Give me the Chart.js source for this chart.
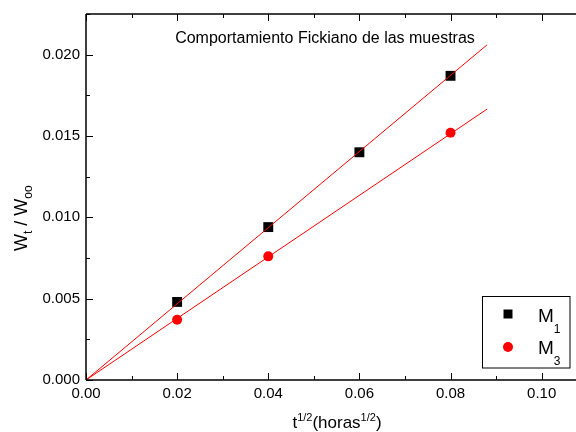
<!DOCTYPE html>
<html>
<head>
<meta charset="utf-8">
<script src="https://cdn.jsdelivr.net/npm/chart.js@4/dist/chart.umd.min.js"></script>
<style>
  html, body { margin: 0; padding: 0; background: #fff; }
  #wrap { width: 576px; height: 432px; }
</style>
</head>
<body>
<div id="wrap"><canvas id="chart" width="576" height="432"></canvas></div>
<script>
// values
const m1X = [0.02, 0.04, 0.06, 0.08];
const m1Values = [0.0048, 0.0094, 0.0140, 0.0187];
const m3X = [0.02, 0.04, 0.08];
const m3Values = [0.0037, 0.0076, 0.0152];
const fitX = [0, 0.088];
const m1Fit = [0, 0.0206];
const m3Fit = [0, 0.01665];
const xTicks = [0, 0.02, 0.04, 0.06, 0.08, 0.10];
const yTicks = [0, 0.005, 0.010, 0.015, 0.020];

const FONT = '"Liberation Sans", Arial, sans-serif';

function pairs(xs, ys) {
    return xs.map((x, i) => ({ x: x, y: ys[i] }));
}

// draw a run of text pieces (for sub/superscripts) starting at x, baseline y
function drawParts(ctx, parts, x, y) {
    let cx = x;
    parts.forEach(p => {
        ctx.font = p.size + 'px ' + FONT;
        ctx.fillText(p.text, cx, y + (p.dy || 0));
        cx += ctx.measureText(p.text).width;
    });
    return cx - x;
}
function partsWidth(ctx, parts) {
    let w = 0;
    parts.forEach(p => {
        ctx.font = p.size + 'px ' + FONT;
        w += ctx.measureText(p.text).width;
    });
    return w;
}

// frame, inward ticks, titles and legend
const decorPlugin = {
    id: 'decor',
    afterDraw(chart) {
        const ctx = chart.ctx;
        const a = chart.chartArea;
        const xs = chart.scales.x, ys = chart.scales.y;
        const edge = chart.width;
        ctx.save();
        ctx.strokeStyle = '#000';
        ctx.lineWidth = 1.5;
        ctx.beginPath();
        ctx.moveTo(a.left, a.top); ctx.lineTo(edge, a.top);
        ctx.moveTo(a.left, a.top); ctx.lineTo(a.left, a.bottom);
        ctx.moveTo(a.left, a.bottom); ctx.lineTo(edge, a.bottom);
        ctx.stroke();

        ctx.lineWidth = 1;
        ctx.beginPath();
        for (let i = 0; i <= 11; i++) {
            const px = Math.round(xs.getPixelForValue(i * 0.01)) + 0.5;
            if (px > edge) break;
            const len = i % 2 === 0 ? 7 : 4;
            ctx.moveTo(px, a.bottom); ctx.lineTo(px, a.bottom - len);
            ctx.moveTo(px, a.top); ctx.lineTo(px, a.top + len);
        }
        for (let i = 0; i <= 9; i++) {
            const v = i * 0.0025;
            if (v > ys.max) break;
            const py = Math.round(ys.getPixelForValue(v)) + 0.5;
            const len = i % 2 === 0 ? 7 : 4;
            ctx.moveTo(a.left, py); ctx.lineTo(a.left + len, py);
        }
        ctx.stroke();

        ctx.fillStyle = '#000';
        ctx.textBaseline = 'alphabetic';
        ctx.textAlign = 'left';

        // title inside the plot
        ctx.font = '16px ' + FONT;
        ctx.textAlign = 'center';
        ctx.fillText('Comportamiento Fickiano de las muestras', 325, 43);
        ctx.textAlign = 'left';

        // x axis title
        const xt = [
            { text: 't', size: 17 },
            { text: '1/2', size: 11, dy: -7 },
            { text: '(horas', size: 17 },
            { text: '1/2', size: 11, dy: -7 },
            { text: ')', size: 17 }
        ];
        const xw = partsWidth(ctx, xt);
        drawParts(ctx, xt, 337 - xw / 2, 428);

        // y axis title
        ctx.save();
        ctx.translate(27, 251);
        ctx.rotate(-Math.PI / 2);
        drawParts(ctx, [
            { text: 'W', size: 18 },
            { text: 't', size: 12, dy: 5 },
            { text: ' / W', size: 18 },
            { text: 'oo', size: 12, dy: 5 }
        ], 0, 0);
        ctx.restore();

        // legend
        ctx.lineWidth = 1;
        ctx.strokeRect(482.5, 296.5, 87.5, 71.5);
        ctx.fillStyle = '#000';
        ctx.fillRect(503.5, 309.5, 9, 9);
        ctx.fillStyle = '#ff0000';
        ctx.beginPath();
        ctx.arc(508, 347, 5, 0, Math.PI * 2);
        ctx.fill();
        ctx.fillStyle = '#000';
        drawParts(ctx, [{ text: 'M', size: 19 }, { text: '1', size: 12, dy: 11 }], 538, 322);
        drawParts(ctx, [{ text: 'M', size: 19 }, { text: '3', size: 12, dy: 11 }], 538, 354);
        ctx.restore();
    }
};

const ctx = document.getElementById('chart').getContext('2d');
new Chart(ctx, {
    type: 'scatter',
    data: {
        datasets: [
            {
                type: 'line',
                label: 'M1 ajuste',
                data: pairs(fitX, m1Fit),
                borderColor: '#ff0000',
                borderWidth: 1,
                pointRadius: 0,
                fill: false,
                order: 0
            },
            {
                type: 'line',
                label: 'M3 ajuste',
                data: pairs(fitX, m3Fit),
                borderColor: '#ff0000',
                borderWidth: 1,
                pointRadius: 0,
                fill: false,
                order: 0
            },
            {
                label: 'M1',
                data: pairs(m1X, m1Values),
                pointStyle: 'rect',
                pointRadius: 7,
                backgroundColor: '#000',
                borderWidth: 0,
                order: 1
            },
            {
                label: 'M3',
                data: pairs(m3X, m3Values),
                pointStyle: 'circle',
                pointRadius: 5,
                backgroundColor: '#ff0000',
                borderWidth: 0,
                order: 1
            }
        ]
    },
    options: {
        responsive: false,
        animation: false,
        layout: { padding: { top: 14, right: 0, left: 0, bottom: 0 } },
        plugins: {
            legend: { display: false },
            tooltip: { enabled: false }
        },
        scales: {
            x: {
                type: 'linear',
                min: 0,
                max: 0.106,
                grid: { display: false, drawTicks: false },
                border: { display: false },
                afterBuildTicks: s => { s.ticks = xTicks.map(v => ({ value: v })); },
                afterFit: s => { s.height = 52; s.paddingLeft = 0; s.paddingRight = 0; },
                ticks: {
                    padding: 5,
                    color: '#000',
                    font: { family: FONT, size: 15 },
                    maxRotation: 0,
                    callback: v => v.toFixed(2)
                }
            },
            y: {
                min: 0,
                max: 0.0225,
                grid: { display: false, drawTicks: false },
                border: { display: false },
                afterBuildTicks: s => { s.ticks = yTicks.map(v => ({ value: v })); },
                afterFit: s => { s.width = 86; s.paddingTop = 0; s.paddingBottom = 0; },
                ticks: {
                    padding: 6,
                    color: '#000',
                    font: { family: FONT, size: 15 },
                    callback: v => v.toFixed(3)
                }
            }
        }
    },
    plugins: [decorPlugin]
});
</script>
</body>
</html>
